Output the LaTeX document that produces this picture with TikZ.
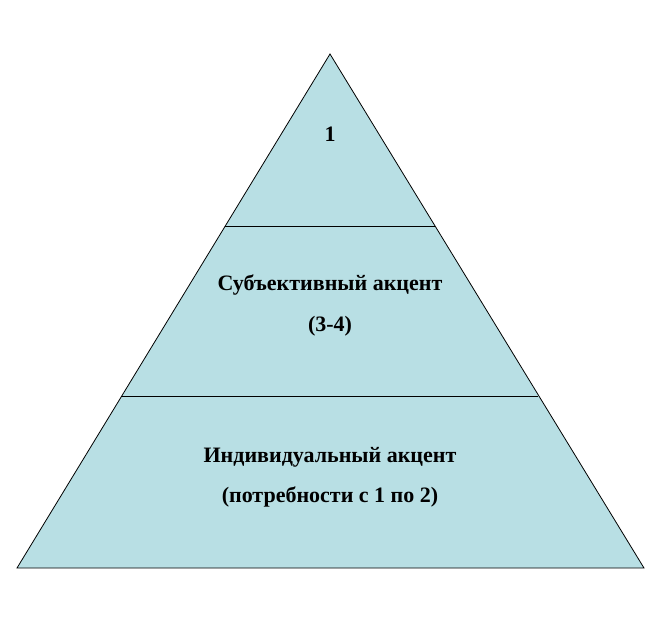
\documentclass[tikz,border=0pt]{standalone}
\usepackage{fontspec}
\setmainfont{Liberation Serif}
\usepackage{xcolor}
\usepackage{tikz}
\usetikzlibrary{positioning}

\definecolor{tierblue}{RGB}{184,223,228}

\begin{document}
\begin{tikzpicture}[x=1pt,y=-1pt,
    tier/.style={draw=black, fill=tierblue, line width=0.8pt, line join=miter},
    label/.style={font=\fontsize{22}{26}\selectfont\bfseries, align=center}]
\useasboundingbox (0,0) rectangle (661,625);

% Pyramid
\draw[tier] (330,54) -- (644,568) -- (17,568) -- cycle;

% Tier borders
\coordinate (upL) at (225.3,226);
\coordinate (upR) at (434.7,226);
\coordinate (loL) at (121.7,396);
\coordinate (loR) at (538.3,396);
\draw[line width=0.8pt] (upL) -- (upR);
\draw[line width=0.8pt] (loL) -- (loR);

% Labels
\node[label] (top) at (330,134) {1};
\node[label] (mid1) at (330,285) {Субъективный акцент};
\node[label] (mid2) at (330,326) {(3-4)};
\node[label] (low1) at (330,457) {Индивидуальный акцент};
\node[label] (low2) at (330,497) {(потребности с 1 по 2)};
\end{tikzpicture}
\end{document}
